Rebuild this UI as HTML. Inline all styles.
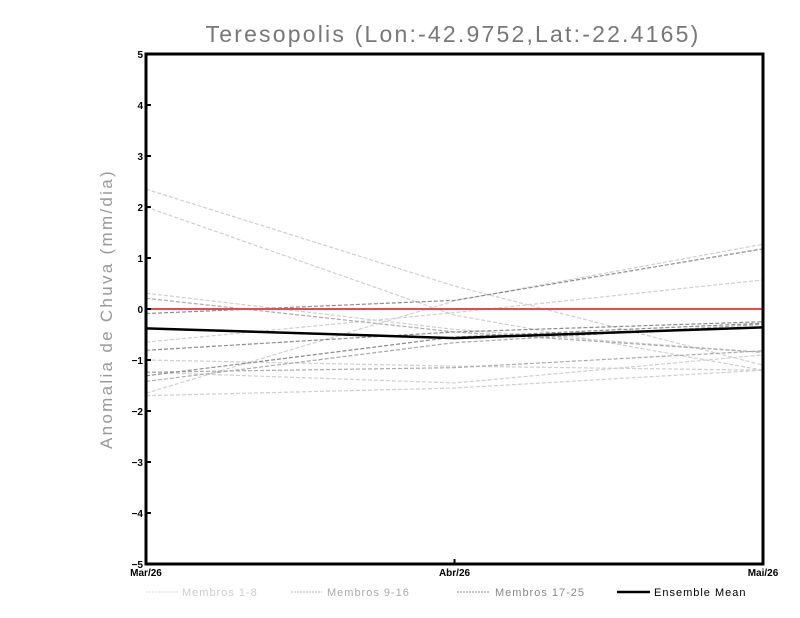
<!DOCTYPE html>
<html><head><meta charset="utf-8"><style>
body{margin:0;background:#fff;}
svg{display:block;font-family:"Liberation Sans",sans-serif;}
</style></head><body>
<svg id="chart" width="800" height="618">
<text x="453" y="42" text-anchor="middle" font-size="23" fill="#777" letter-spacing="2.2">Teresopolis (Lon:-42.9752,Lat:-22.4165)</text>
<text transform="translate(112,309) rotate(-90)" text-anchor="middle" font-size="17" fill="#999" letter-spacing="2.3">Anomalia de Chuva (mm/dia)</text>
<g id="plot"></g>
<g id="legend" font-size="11" letter-spacing="1">
<line x1="146" y1="592" x2="178" y2="592" stroke="#ddd" stroke-dasharray="2,1"/>
<text x="182" y="596" fill="#ccc">Membros 1-8</text>
<line x1="291" y1="592" x2="322" y2="592" stroke="#bbb" stroke-dasharray="2,1"/>
<text x="327" y="596" fill="#aaa">Membros 9-16</text>
<line x1="457" y1="592" x2="490" y2="592" stroke="#888" stroke-dasharray="2,1"/>
<text x="495" y="596" fill="#888">Membros 17-25</text>
<line x1="617" y1="592" x2="650" y2="592" stroke="#000" stroke-width="2.5"/>
<text x="654" y="596" fill="#000">Ensemble Mean</text>
</g>
</svg>
<script>
const categories = ["Mar/26","Abr/26","Mai/26"];
const yTicks = [-5,-4,-3,-2,-1,0,1,2,3,4,5];
const membersLight = [[2.35,0.45,-1.1],[2.0,-0.12,-1.2],[0.31,-0.40,-0.85],[-0.65,-0.07,0.57],[-1.0,-1.12,-1.2],[-1.65,0.16,1.27],[-1.70,-1.55,-1.2],[-1.24,-1.45,-0.9]];
const membersMid = [[0.21,-0.45,-0.85],[-1.42,-0.66,-0.3],[-1.24,-1.15,-0.82]];
const membersDark = [[-0.09,0.17,1.18],[-0.81,-0.45,-0.25],[-1.31,-0.55,-0.28]];
const ensembleMean = [-0.38,-0.57,-0.36];
const zeroLine = [0,0,0];

const L=146,R=763,T=54,B=564;
const xs=i=>L+(R-L)*i/(categories.length-1);
const ys=v=>T+(B-T)*(5-v)/10;
const NS="http://www.w3.org/2000/svg";
const g=document.getElementById('plot');
function mk(tag,attrs){const e=document.createElementNS(NS,tag);for(const k in attrs)e.setAttribute(k,attrs[k]);g.appendChild(e);return e;}
function series(vals,stroke,w,dash,name){
  const e=mk('polyline',{points:vals.map((v,i)=>xs(i)+','+ys(v)).join(' '),fill:'none',stroke:stroke,'stroke-width':w});
  if(dash)e.setAttribute('stroke-dasharray',dash);
  
  
}
membersLight.forEach((m,i)=>series(m,'#cfcfcf',1.2,'4,2','member-light-'+(i+1)));
membersMid.forEach((m,i)=>series(m,'#aaaaaa',1.2,'4,2','member-mid-'+(i+1)));
membersDark.forEach((m,i)=>series(m,'#8c8c8c',1.2,'4,2','member-dark-'+(i+1)));
series(zeroLine,'#f04848',2,null,'zero-line');
series(ensembleMean,'#000',2.5,null,'ensemble-mean-line');
const fr=mk('rect',{x:L,y:T,width:R-L,height:B-T,fill:'none',stroke:'#000','stroke-width':3});


yTicks.forEach(v=>{
  const tk=mk('line',{x1:L,x2:L+5,y1:ys(v),y2:ys(v),stroke:'#000','stroke-width':2});
  
  
  const t=mk('text',{x:L-3,y:ys(v)+4,'text-anchor':'end','font-size':10,'font-weight':'bold'});
  t.textContent=(v<0?'\u2212'+(-v):v);
  
  
});
categories.forEach((c,i)=>{
  const tk=mk('line',{x1:xs(i),x2:xs(i),y1:B,y2:B-5,stroke:'#000','stroke-width':2});
  
  
  const t=mk('text',{x:xs(i),y:B+12,'text-anchor':'middle','font-size':10,'font-weight':'bold'});
  t.textContent=c;
  
  
});
</script>
</body></html>
